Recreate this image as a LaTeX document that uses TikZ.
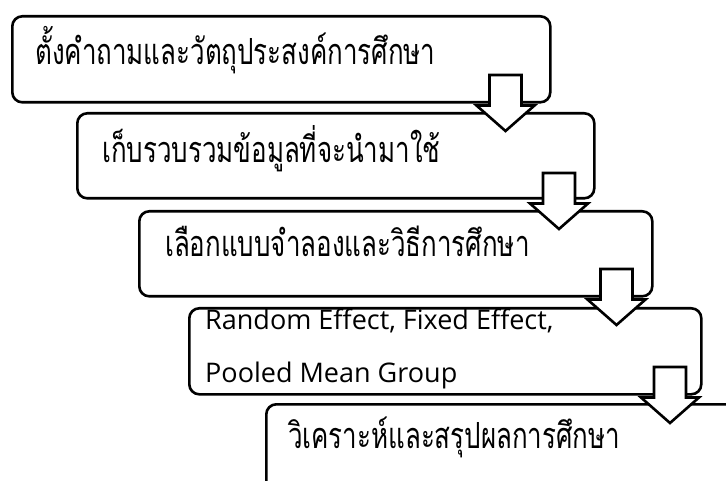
\documentclass[tikz,border=0pt]{standalone}
\usepackage{fontspec}
\newfontfamily\thaifont[Script=Thai,FakeStretch=0.72]{Loma}
\newfontfamily\latinfont{Open Sans}
\begin{document}
\begin{tikzpicture}[x=1pt,y=-1pt,
  flowbox/.style={draw=black,line width=2.6pt,rounded corners=10pt,fill=white,
    inner sep=0pt,anchor=north west},
  thaitext/.style={anchor=base west,inner sep=0pt,font=\thaifont\fontsize{36}{40}\selectfont},
  latintext/.style={anchor=base west,inner sep=0pt,font=\latinfont\fontsize{27}{31}\selectfont},
  downarrow/.pic={
    \draw[line width=2.6pt,fill=white,line join=miter]
      (-16,0) -- (16,0) -- (16,30.5) -- (29,30.5) -- (0,56) -- (-29,30.5) -- (-16,30.5) -- cycle;
  }]
\useasboundingbox (0,0) rectangle (726,481);
\clip (0,0) rectangle (726,481);
\fill[white] (0,0) rectangle (726,481);

\node[flowbox,minimum width=538pt,minimum height=86pt] (b1) at (11,15) {};
\node[flowbox,minimum width=517pt,minimum height=85pt] (b2) at (76,112) {};
\node[flowbox,minimum width=513pt,minimum height=85pt] (b3) at (138,210) {};
\node[flowbox,minimum width=512pt,minimum height=86pt] (b4) at (188,307) {};
\node[flowbox,minimum width=520pt,minimum height=120pt] (b5) at (265,403) {};

\node[thaitext] (t1) at (35,65) {ตั้งคำถามและวัตถุประสงค์การศึกษา};
\node[thaitext] (t2) at (102,163) {เก็บรวบรวมข้อมูลที่จะนำมาใช้};
\node[thaitext] (t3) at (165,257) {เลือกแบบจำลองและวิธีการศึกษา};
\node[latintext] (t4a) at (205,330) {Random Effect, Fixed Effect,};
\node[latintext] (t4b) at (205,382) {Pooled Mean Group};
\node[thaitext] (t5) at (288,448) {วิเคราะห์และสรุปผลการศึกษา};

\pic at (505.5,75) {downarrow};
\pic at (559,173) {downarrow};
\pic at (616.5,269) {downarrow};
\pic at (670,367) {downarrow};
\end{tikzpicture}
\end{document}
